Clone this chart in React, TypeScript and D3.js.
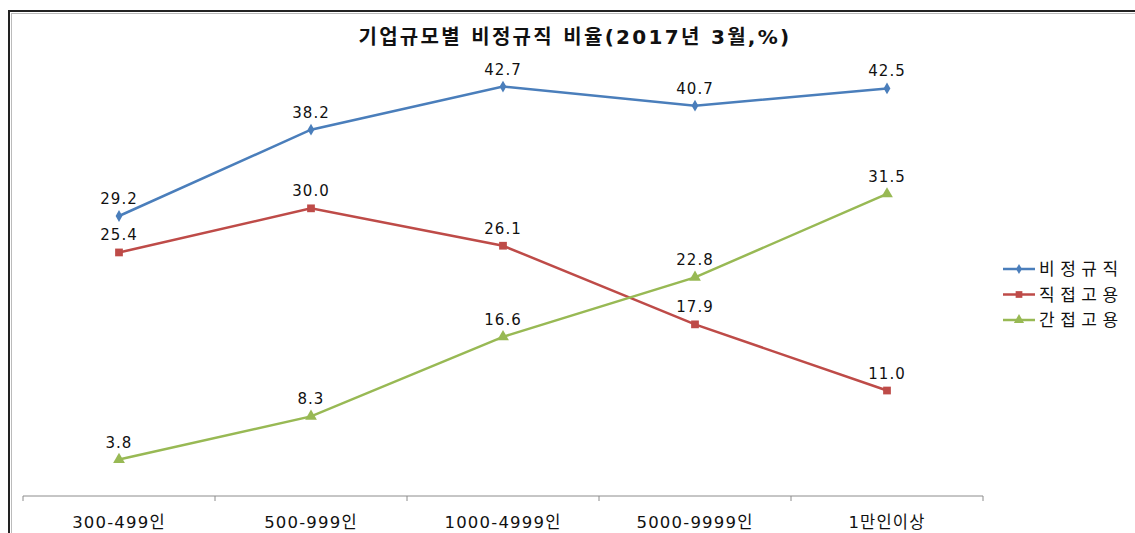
import React from 'react';
import * as d3 from 'd3';

const categories = ['300-499인', '500-999인', '1000-4999인', '5000-9999인', '1만인이상'];
const seriesNames = ['비정규직', '직접고용', '간접고용'];
const nonRegular = [29.2, 38.2, 42.7, 40.7, 42.5];
const directHire = [25.4, 30.0, 26.1, 17.9, 11.0];
const indirectHire = [3.8, 8.3, 16.6, 22.8, 31.5];

const COLORS = ['#4a7ebb', '#be4b48', '#98b954'];
const SYMBOLS = [d3.symbolDiamond, d3.symbolSquare, d3.symbolTriangle];
const FONT = '"DejaVu Sans", "Noto Sans CJK KR", sans-serif';

const W = 1135;
const H = 533;

export default function App() {
  const series = [nonRegular, directHire, indirectHire];

  const x = d3.scaleBand<string>().domain(categories).range([23, 983]);
  const y = d3.scaleLinear().domain([0, 45]).range([496, 64.5]);
  const cx = (c: string) => (x(c) as number) + x.bandwidth() / 2;

  const line = d3
    .line<number>()
    .x((_, i) => cx(categories[i]))
    .y((d) => y(d));

  const ticks = [...categories.map((c) => x(c) as number), 983];

  return (
    <svg width={W} height={H} style={{ position: 'absolute', left: 0, top: 0, background: '#fff' }}>
      <rect x={9} y={11} width={W + 20} height={H + 20} fill="#fff" stroke="#222" strokeWidth={2} />
      <line x1={11} x2={W} y1={13.5} y2={13.5} stroke="#bbb" strokeWidth={1} />
      <line x1={11.5} x2={11.5} y1={13} y2={H} stroke="#bbb" strokeWidth={1} />

      <text x={575} y={44} textAnchor="middle" fontFamily={FONT} fontSize={20} fontWeight="bold" fill="#111" letterSpacing={2.3}>
        기업규모별 비정규직 비율(2017년 3월,%)
      </text>

      {/* x axis */}
      <line x1={23} x2={983} y1={496} y2={496} stroke="#8c8c8c" strokeWidth={1} />
      {ticks.map((t, i) => (
        <line key={i} x1={t} x2={t} y1={496} y2={501} stroke="#8c8c8c" strokeWidth={1} />
      ))}
      {categories.map((c) => (
        <text key={c} x={cx(c)} y={528} textAnchor="middle" fontFamily={FONT} fontSize={16.5} fill="#111" letterSpacing={1.2}>
          {c}
        </text>
      ))}

      {series.map((s, si) => (
        <g key={si}>
          <path d={line(s) || ''} fill="none" stroke={COLORS[si]} strokeWidth={2.5} />
          {s.map((v, i) => (
            <path
              key={i}
              transform={`translate(${cx(categories[i])},${y(v)})`}
              d={d3.symbol().type(SYMBOLS[si]).size(si === 0 ? 40 : 60)() || ''}
              fill={COLORS[si]}
            />
          ))}
          {s.map((v, i) => (
            <text
              key={'l' + i}
              x={cx(categories[i])}
              y={y(v) - 12}
              textAnchor="middle"
              fontFamily={FONT}
              fontSize={15}
              fill="#111"
              letterSpacing={1}
            >
              {v.toFixed(1)}
            </text>
          ))}
        </g>
      ))}

      {/* legend */}
      {seriesNames.map((n, i) => {
        const ly = 269 + i * 25.5;
        return (
          <g key={n}>
            <line x1={1003} x2={1035} y1={ly} y2={ly} stroke={COLORS[i]} strokeWidth={2.5} />
            <path
              transform={`translate(1019,${ly})`}
              d={d3.symbol().type(SYMBOLS[i]).size(i === 0 ? 30 : 45)() || ''}
              fill={COLORS[i]}
            />
            <text x={1039} y={ly + 6} fontFamily={FONT} fontSize={17} fill="#111" letterSpacing={5.5}>
              {n}
            </text>
          </g>
        );
      })}
    </svg>
  );
}
